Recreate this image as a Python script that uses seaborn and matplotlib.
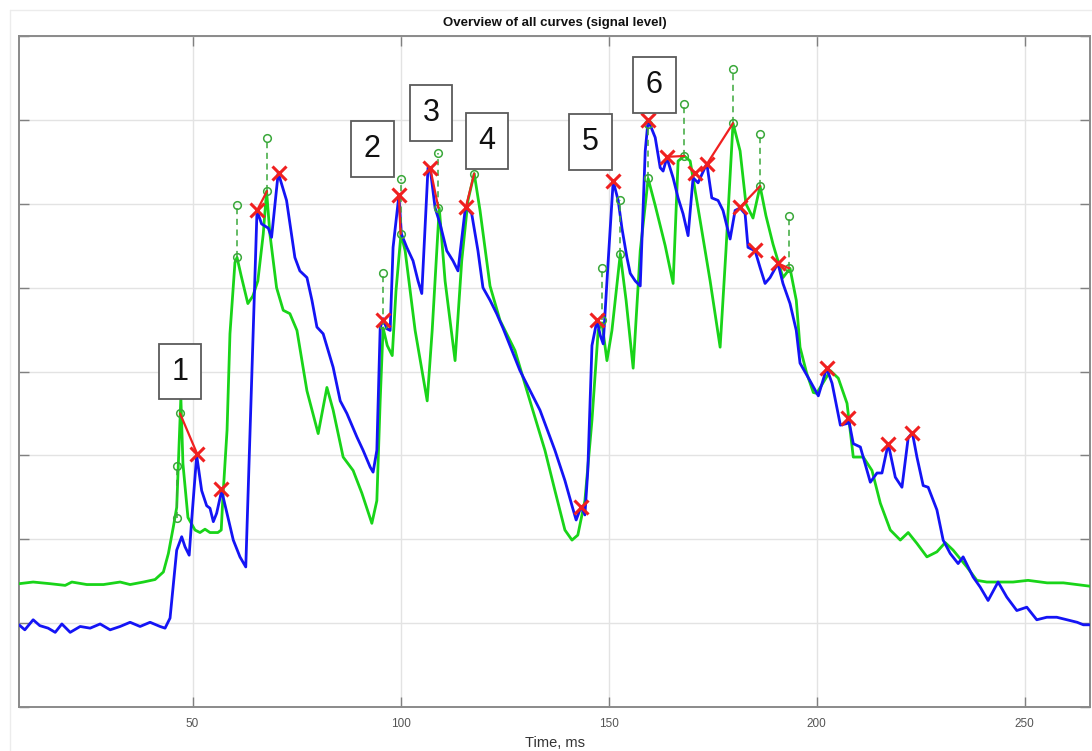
import numpy as np
import pandas as pd
import matplotlib
matplotlib.use("Agg")
import matplotlib.pyplot as plt
from matplotlib.lines import Line2D
import seaborn as sns

# ---------------- data ----------------
blue_t = [8.3, 9.7, 11.7, 13.3, 15.3, 17.0, 18.6, 20.6, 23.0, 25.4, 27.8, 30.2, 32.6, 35.0, 37.4,
          39.8, 42.2, 43.4, 44.6, 46.2, 47.4, 48.2, 49.2, 49.8, 51.0, 52.2, 53.4, 54.2, 55.0, 55.8,
          57.0, 59.8, 61.4, 62.8, 65.5, 66.6, 68.2, 69.0, 70.6, 72.6, 74.6, 75.8, 77.5, 78.7, 79.9,
          81.4, 83.8, 85.5, 87.1, 89.5, 91.0, 92.7, 93.4, 94.3, 95.1, 95.8, 96.7, 97.5, 98.2, 99.6,
          100.2, 101.5, 103.0, 104.2, 105.1, 106.6, 107.1, 108.3, 109.5, 111.1, 112.6, 113.8, 115.5,
          115.9, 117.1, 118.6, 119.8, 121.5, 123.1, 124.6, 128.7, 133.5, 137.1, 139.5, 141.2, 142.2,
          143.4, 144.3, 145.0, 146.0, 147.2, 148.0, 148.7, 149.9, 151.1, 152.3, 153.2, 154.4, 155.2,
          156.4, 157.6, 158.8, 159.5, 161.2, 162.4, 163.1, 164.0, 165.5, 166.7, 167.9, 169.1, 170.3,
          171.5, 173.6, 174.8, 176.3, 177.5, 179.2, 180.4, 181.6, 182.8, 183.5, 185.2, 186.4, 187.6,
          188.8, 190.7, 191.9, 193.6, 195.1, 196.0, 198.4, 200.4, 202.4, 203.7, 205.7, 207.3, 207.6,
          208.8, 210.5, 212.9, 214.5, 215.7, 217.2, 218.9, 220.5, 222.0, 223.0, 224.1, 225.6, 226.8,
          228.9, 230.4, 232.1, 234.0, 235.2, 237.6, 239.3, 241.2, 243.6, 245.7, 248.1, 250.5, 252.9,
          255.3, 257.7, 260.2, 262.6, 264.1, 265.7]
blue_v = [0.98, 0.92, 1.04, 0.97, 0.94, 0.89, 0.99, 0.89, 0.96, 0.94, 0.99, 0.92, 0.96, 1.01, 0.96,
          1.01, 0.96, 0.94, 1.06, 1.87, 2.03, 1.91, 1.81, 2.23, 3.00, 2.58, 2.40, 2.37, 2.21, 2.31,
          2.58, 1.99, 1.79, 1.67, 5.92, 5.76, 5.71, 5.60, 6.37, 6.04, 5.36, 5.20, 5.12, 4.85, 4.53,
          4.45, 4.05, 3.65, 3.50, 3.22, 3.06, 2.86, 2.80, 3.06, 4.52, 4.63, 4.51, 4.49, 5.48, 6.10,
          5.64, 5.48, 5.32, 5.08, 4.93, 6.43, 6.43, 5.95, 5.76, 5.44, 5.32, 5.20, 5.92,
          5.95, 5.88, 5.44, 5.00, 4.85, 4.69, 4.52, 4.01, 3.54, 3.06, 2.70, 2.40, 2.23,
          2.39, 2.29, 2.82, 4.31, 4.61, 4.43, 4.33, 5.32, 6.27, 6.04, 5.71, 5.36, 5.17,
          5.08, 5.02, 6.63, 7.00, 6.79, 6.43, 6.39, 6.55, 6.31, 6.07, 5.88, 5.62, 6.31,
          6.25, 6.48, 6.07, 6.04, 5.92, 5.58, 5.92, 5.95, 5.88, 5.48, 5.44, 5.24, 5.05,
          5.12, 5.29, 5.05, 4.81, 4.49, 4.10, 3.89, 3.71, 4.04, 3.86, 3.36, 3.38, 3.45,
          3.14, 3.10, 2.68, 2.79, 2.79, 3.14, 2.74, 2.62, 3.21, 3.27, 2.98, 2.64, 2.62,
          2.35, 1.99, 1.83, 1.71, 1.79, 1.55, 1.43, 1.27, 1.49, 1.31, 1.15, 1.19, 1.04,
          1.07, 1.07, 1.04, 1.01, 0.98, 0.98]

green_t = [8.3, 11.7, 15.8, 19.4, 21.0, 24.6, 28.6, 32.6, 35.0, 38.2, 41.0, 43.0, 44.2, 45.4, 46.2,
           47.0, 47.2, 47.7, 48.9, 50.6, 51.8, 53.0, 54.2, 56.1, 56.9, 57.3, 58.3, 59.0, 60.2, 60.7,
           61.7, 63.3, 64.5, 65.7, 67.0, 67.8, 68.6, 70.2, 71.8, 73.4, 75.1, 77.5, 80.2, 82.3, 83.8,
           86.2, 88.6, 90.7, 93.1, 94.3, 95.1, 95.8, 96.8, 98.0, 98.9, 100.1, 101.1, 103.5, 106.4,
           107.6, 109.3, 110.7, 113.1, 114.7, 116.2, 117.7, 119.1, 121.5, 123.9, 127.5, 131.1, 134.7,
           137.1, 139.5, 141.2, 142.6, 144.3, 146.0, 147.5, 148.4, 149.6, 150.8, 152.8, 154.2, 155.9,
           157.6, 159.5, 161.2, 163.6, 165.5, 166.7, 168.2, 169.6, 172.0, 174.4, 176.8, 178.2, 179.9,
           181.6, 183.0, 184.7, 186.4, 187.8, 189.5, 191.9, 193.6, 195.1, 196.0, 197.6, 199.2, 200.0,
           203.3, 205.2, 207.3, 208.8, 211.2, 213.3, 215.3, 217.7, 220.1, 222.0, 224.1, 226.5, 228.9,
           230.9, 232.8, 236.1, 238.5, 240.9, 244.1, 247.2, 250.8, 255.4, 259.3, 265.7]
green_v = [1.47, 1.49, 1.47, 1.45, 1.49, 1.46, 1.46, 1.49, 1.46, 1.49, 1.52, 1.61, 1.83, 2.15, 2.38,
           3.42, 3.69, 2.90, 2.26, 2.11, 2.08, 2.12, 2.08, 2.08, 2.11, 2.50, 3.30, 4.45, 5.30, 5.36,
           5.14, 4.81, 4.90, 5.08, 5.64, 6.15, 5.64, 5.00, 4.73, 4.69, 4.49, 3.77, 3.26, 3.81, 3.54,
           2.98, 2.82, 2.55, 2.19, 2.46, 3.65, 4.52, 4.31, 4.19, 4.96, 5.64, 5.44, 4.49, 3.65,
           4.49, 5.95, 5.08, 4.13, 5.32, 6.04, 6.36, 5.92, 5.02, 4.61, 4.25, 3.65, 3.06,
           2.58, 2.11, 1.99, 2.05, 2.46, 3.42, 4.49, 4.58, 4.13, 4.49, 5.40, 4.85, 4.04,
           5.44, 6.30, 5.98, 5.50, 5.05, 6.51, 6.57, 6.51, 5.80, 5.08, 4.29, 5.44, 6.96,
           6.63, 6.00, 5.83, 6.21, 5.86, 5.52, 5.12, 5.23, 4.85, 4.29, 3.98, 3.75, 3.74,
           4.01, 3.92, 3.62, 2.98, 2.98, 2.82, 2.43, 2.11, 1.99, 2.08, 1.95, 1.79, 1.85,
           1.96, 1.87, 1.67, 1.51, 1.49, 1.49, 1.49, 1.51, 1.48, 1.48, 1.44]

# detected peaks on the blue curve (red crosses)
peak_t = [51.1, 56.9, 65.5, 70.8, 95.8, 99.6, 107.1, 115.7, 143.4, 147.2, 151.1, 159.5, 164.1,
          170.8, 173.7, 181.6, 185.2, 190.7, 202.5, 207.6, 217.2, 223.0]
peak_v = [3.02, 2.60, 5.92, 6.37, 4.62, 6.10, 6.43, 5.96, 2.39, 4.61, 6.27, 7.00, 6.56,
          6.37, 6.48, 5.96, 5.45, 5.29, 4.04, 3.45, 3.14, 3.27]

# reference peaks on the green curve (circle stems)
ref_t = [46.3, 60.7, 67.9, 95.8, 100.0, 109.1, 148.4, 152.7, 159.5, 168.2, 179.9, 186.4, 193.4]
ref_low = [2.25, 5.36, 6.15, 4.55, 5.64, 5.95, 4.61, 5.40, 6.31, 6.57, 6.96, 6.21, 5.23]
ref_high = [2.87, 5.98, 6.79, 5.18, 6.29, 6.60, 5.24, 6.04, 6.95, 7.19, 7.61, 6.83, 5.85]
single_ref_t = [47.0, 117.7]
single_ref_v = [3.50, 6.36]

# red links between green reference and blue peak
link_t0 = [47.0, 65.5, 99.6, 107.1, 115.7, 164.1, 173.7, 181.6, 190.7]
link_v0 = [3.50, 5.92, 6.10, 6.43, 5.96, 6.56, 6.48, 5.96, 5.29]
link_t1 = [51.1, 67.9, 100.0, 109.1, 117.7, 168.2, 179.9, 186.4, 193.4]
link_v1 = [3.02, 6.15, 5.64, 5.95, 6.36, 6.57, 6.96, 6.21, 5.23]

# numbered event labels
label_text = ["1", "2", "3", "4", "5", "6"]
label_t = [47.0, 93.2, 107.3, 120.8, 145.6, 161.0]
label_v = [4.00, 6.65, 7.08, 6.75, 6.74, 7.42]

xticks = [50, 100, 150, 200, 250]

# ---------------- style ----------------
sns.set_theme(style="whitegrid")
plt.rcParams['font.family'] = ['Liberation Sans', 'DejaVu Sans']

BLUE = '#1414f5'
GREEN = '#19d419'
RED = '#f02020'
STEM = '#3aa83a'

fig = plt.figure(figsize=(10.92, 7.51), dpi=100)
fig.patch.set_facecolor('white')
# faint outer frame of the exported figure
fig.add_artist(Line2D([10 / 1092, 10 / 1092], [0, 1 - 10 / 751], color='#ececec', lw=1.0))
fig.add_artist(Line2D([10 / 1092, 1], [1 - 10 / 751, 1 - 10 / 751], color='#ececec', lw=1.0))

ax = fig.add_axes([0.0174, 0.0586, 0.9808, 0.8934])
ax.set_facecolor('white')

df_g = pd.DataFrame({'t': green_t, 'v': green_v})
df_b = pd.DataFrame({'t': blue_t, 'v': blue_v})
sns.lineplot(data=df_g, x='t', y='v', ax=ax, color=GREEN, lw=2.0, sort=False, estimator=None, zorder=3)
sns.lineplot(data=df_b, x='t', y='v', ax=ax, color=BLUE, lw=2.0, sort=False, estimator=None, zorder=4)

# stems between green references
ax.vlines(ref_t, ref_low, ref_high, colors=STEM, linestyles=(0, (4, 3)), lw=1.1, zorder=5)
ax.plot(ref_t, ref_low, 'o', mfc='none', mec=STEM, ms=5.5, mew=1.1, zorder=6, ls='none')
ax.plot(ref_t, ref_high, 'o', mfc='none', mec=STEM, ms=5.5, mew=1.1, zorder=6, ls='none')
ax.plot(single_ref_t, single_ref_v, 'o', mfc='none', mec=STEM, ms=5.5, mew=1.1, zorder=6, ls='none')

for a, b, c, d in zip(link_t0, link_t1, link_v0, link_v1):
    ax.plot([a, b], [c, d], color=RED, lw=1.6, zorder=6)

ax.plot(peak_t, peak_v, 'x', color=RED, ms=10, mew=2.2, ls='none', zorder=7)

for s, t, v in zip(label_text, label_t, label_v):
    ax.text(t, v, s, ha='center', va='center', fontsize=22, color='#111111', zorder=8,
            bbox=dict(boxstyle='square,pad=0.42', fc='white', ec='#5a5a5a', lw=1.3))

ax.set_xlim(8.3, 265.7)
ax.set_ylim(0, 8)
ax.set_xticks(xticks)
ax.set_xticklabels([str(x) for x in xticks])
ax.set_yticks(range(0, 9))
ax.set_yticklabels([])
ax.grid(True, color='#e3e3e3', lw=1.0)
ax.set_axisbelow(True)
ax.tick_params(direction='in', length=7, width=1.0, top=True, right=True, left=True, bottom=True,
               colors='#808080', labelcolor='#555555', labelsize=8.5, pad=8)
for sp in ax.spines.values():
    sp.set_visible(True)
    sp.set_color('#8a8a8a')
    sp.set_linewidth(1.4)

ax.set_xlabel('Time, ms', fontsize=10.5, color='#333333', labelpad=4)
ax.set_ylabel('')
ax.set_title('Overview of all curves (signal level)', fontsize=9.5, fontweight='bold', color='#111111', pad=7)

fig.savefig('out.png', dpi=100, facecolor='white')
